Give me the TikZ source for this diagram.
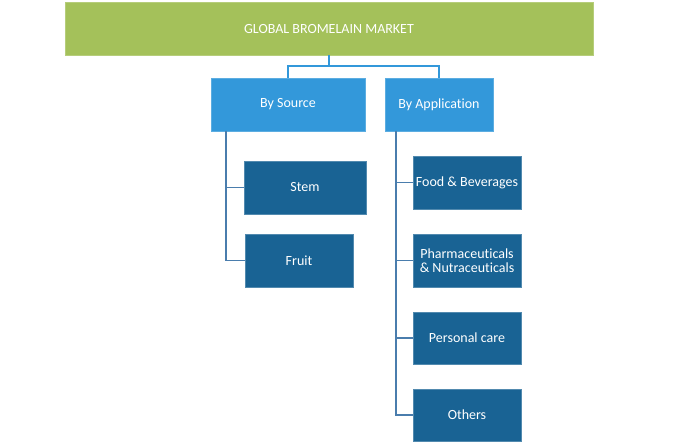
\documentclass[tikz,border=0pt]{standalone}
\usepackage{fontspec}
\setmainfont{Carlito}[Ligatures=NoCommon]
\definecolor{topgreen}{HTML}{A4C15A}
\definecolor{midblue}{HTML}{3398DA}
\definecolor{darkblue}{HTML}{196394}
\definecolor{linelight}{HTML}{3398DA}
\definecolor{linedark}{HTML}{4A7DAD}
\begin{document}
\begin{tikzpicture}[x=0.75pt,y=-0.75pt,
  boxbase/.style={inner sep=0pt, align=center, text=white, font=\fontsize{10.5pt}{11.5pt}\selectfont, minimum height=39.75pt},
  topbox/.style={boxbase, fill=topgreen, draw=topgreen!80!white, line width=0.5pt},
  catbox/.style={boxbase, fill=midblue, draw=midblue!80!white, line width=0.5pt},
  leafbox/.style={boxbase, fill=darkblue, draw=darkblue!75!white, line width=0.5pt},
  linktop/.style={draw=linelight, line width=1.1pt},
  linklow/.style={draw=linedark, line width=1.1pt}]
\useasboundingbox (0,0) rectangle (700,444);
\fill[white] (0,0) rectangle (700,444);
\node[topbox, minimum width=396pt] (top) at (329,28.5) {GLOBAL BROMELAIN MARKET};
\node[catbox, minimum width=115.5pt] (bysrc) at (288,104.5) {By Source};
\node[catbox, minimum width=81pt] (byapp) at (439,104.5) {By Application};
\node[leafbox, minimum width=91.5pt] (stem) at (305,187.5) {Stem};
\node[leafbox, minimum width=81pt] (fruit) at (299,260.5) {Fruit};
\node[leafbox, minimum width=81pt] (food) at (467,182.5) {Food \& Beverages};
\node[leafbox, minimum width=81pt] (pharma) at (467,260.5) {Pharmaceuticals\\[-1pt]\& Nutraceuticals};
\node[leafbox, minimum width=81pt, minimum height=39pt] (pers) at (467,338) {Personal care};
\node[leafbox, minimum width=81pt, minimum height=39pt] (oth) at (467,415) {Others};
\coordinate (j) at (329,66);
\coordinate (sv) at (226,131);
\coordinate (av) at (396,131);
\draw[linktop] (top.south) -- (j);
\draw[linktop] (bysrc.north) |- (j) -| (byapp.north);
\draw[linklow] (sv) |- (stem.west);
\draw[linklow] (sv) |- (fruit.west);
\draw[linklow] (av) |- (food.west);
\draw[linklow] (av) |- (pharma.west);
\draw[linklow] (av) |- (pers.west);
\draw[linklow] (av) |- (oth.west);
\end{tikzpicture}
\end{document}
